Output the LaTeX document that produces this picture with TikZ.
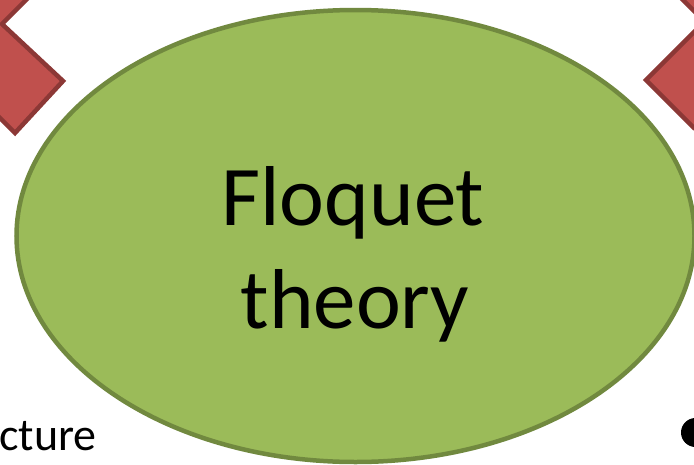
\documentclass[tikz,border=0pt]{standalone}
\usepackage{fontspec}
\setmainfont{Carlito}
\usetikzlibrary{shapes.geometric}
\definecolor{ellfill}{RGB}{155,187,89}
\definecolor{elldraw}{RGB}{113,137,63}
\definecolor{redfill}{RGB}{192,80,77}
\definecolor{reddraw}{RGB}{140,56,54}
\tikzset{
  redshape/.style={fill=redfill,draw=reddraw,line width=4.5pt,line join=miter},
  bigell/.style={ellipse,fill=ellfill,draw=elldraw,line width=4.5pt,minimum width=678pt,minimum height=452pt,inner sep=0pt},
  bigtext/.style={font=\fontsize{85}{103}\selectfont,inner sep=0pt,anchor=base},
  sidetext/.style={font=\fontsize{46}{56}\selectfont,inner sep=0pt,anchor=base east}
}
\begin{document}
\begin{tikzpicture}[x=1pt,y=-1pt]
\useasboundingbox (0,0) rectangle (694,464);
\clip (0,0) rectangle (694,464);
\fill[white] (0,0) rectangle (694,464);
% red shapes (partly outside the frame)
\draw[redshape] (40,-14) -- (2,24) -- (63,81) -- (15,133) -- (-30,88) -- (-30,-14) -- cycle;
\draw[redshape] (669,-14) -- (704.5,21.5) -- (646,80) -- (694,128) -- (740,128) -- (740,-14) -- cycle;
% ellipse
\node[bigell] (ell) at (355.5,236) {};
\node[bigtext] (l1) at (353,225) {Floquet};
\node[bigtext] (l2) at (355,328) {theory};
% side fragments
\node[sidetext] (cut) at (97,450) {cture};
\fill (695.5,432.5) circle (14.5pt);
\end{tikzpicture}
\end{document}
